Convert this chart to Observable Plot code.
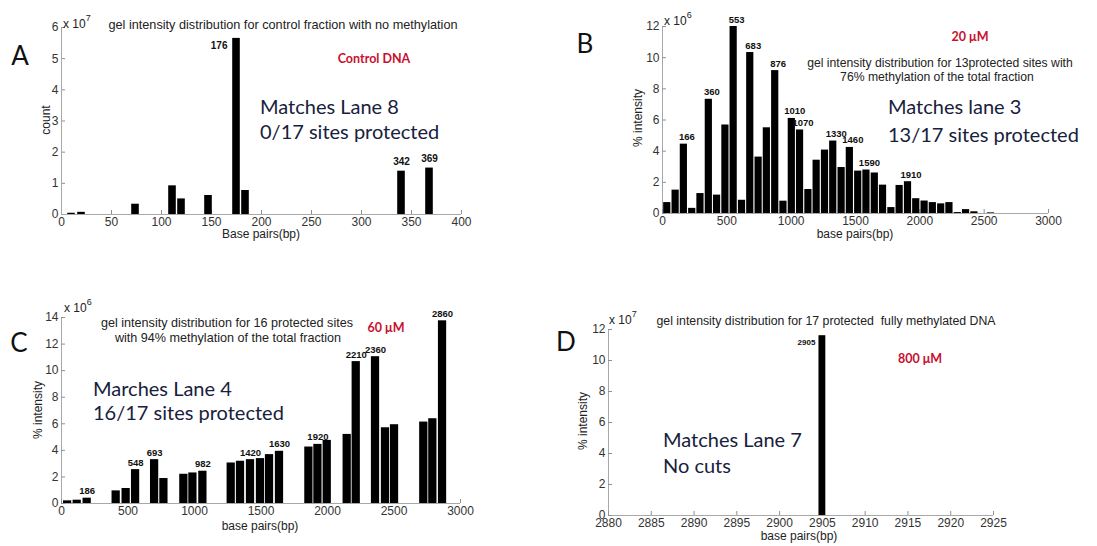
<!DOCTYPE html>
<html><head><meta charset="utf-8">
<script src="https://cdn.jsdelivr.net/npm/d3@7"></script>
<script src="https://cdn.jsdelivr.net/npm/@observablehq/plot@0.6"></script>
<style>
body{margin:0;background:#fff}
#root{position:relative;width:1097px;height:546px;overflow:hidden;background:#fff;font-family:"Liberation Sans",Arial,sans-serif}
.t{position:absolute;white-space:pre;line-height:1}
</style></head><body><div id="root"></div>
<script>
// ---------- Panel A: control fraction ----------
const aX = [10, 20, 74, 111, 120, 147, 175, 184, 340, 368];
const aV = [0.04, 0.07, 0.33, 0.92, 0.5, 0.61, 5.65, 0.77, 1.39, 1.49];
const aLabels = ["176", "342", "369"];
const aLabelIdx = [6, 8, 9];
const aXTicks = [0, 50, 100, 150, 200, 250, 300, 350, 400];
const aYTicks = [0, 1, 2, 3, 4, 5, 6];

// ---------- Panel B: 20 µM ----------
const bX = [37, 102, 166, 231, 295, 360, 424, 489, 553, 618, 682, 747, 811, 876, 940, 1005, 1069, 1134, 1198, 1263,
            1327, 1392, 1456, 1521, 1585, 1650, 1714, 1779, 1843, 1908, 1972, 2037, 2101, 2166, 2230, 2295, 2359, 2424, 2553];
const bV = [0.7, 1.5, 4.45, 0.33, 1.28, 7.33, 1.18, 5.68, 12.0, 0.85, 10.33, 3.62, 5.5, 9.17, 0.79, 6.1, 5.36, 1.54, 3.42, 4.07,
            4.65, 2.95, 4.24, 2.72, 2.79, 2.6, 1.82, 0.38, 1.8, 2.04, 0.95, 0.8, 0.7, 0.62, 0.7, 0.06, 0.25, 0.11, 0.04];
const bLabels = ["166", "360", "553", "683", "876", "1010", "1070", "1330", "1460", "1590", "1910"];
const bLabelIdx = [2, 5, 8, 10, 13, 15, 16, 20, 22, 24, 29];
const bXTicks = [0, 500, 1000, 1500, 2000, 2500, 3000];
const bYTicks = [0, 2, 4, 6, 8, 10, 12];

// ---------- Panel C: 60 µM ----------
const cX = [46, 118, 193, 411, 486, 557, 700, 770, 920, 988, 1063, 1276, 1346, 1421, 1496, 1564, 1639,
            1860, 1928, 1998, 2148, 2216, 2361, 2436, 2504, 2724, 2792, 2865];
const cV = [0.2, 0.25, 0.4, 0.95, 1.13, 2.55, 3.3, 1.88, 2.2, 2.3, 2.43, 3.05, 3.18, 3.3, 3.38, 3.68, 3.93,
            4.25, 4.45, 4.75, 5.2, 10.68, 11.05, 5.7, 5.93, 6.13, 6.38, 13.75];
const cLabels = ["186", "548", "693", "982", "1420", "1630", "1920", "2210", "2360", "2860"];
const cLabelIdx = [2, 5, 6, 10, 13, 16, 18, 21, 22, 27];
const cXTicks = [0, 500, 1000, 1500, 2000, 2500, 3000];
const cYTicks = [0, 2, 4, 6, 8, 10, 12, 14];

// ---------- Panel D: 800 µM ----------
const dX = [2905];
const dV = [11.6];
const dLabels = ["2905"];
const dLabelIdx = [0];
const dXTicks = [2880, 2885, 2890, 2895, 2900, 2905, 2910, 2915, 2920, 2925];
const dYTicks = [0, 2, 4, 6, 8, 10, 12];

const root = document.getElementById("root");
const AX_FONT = '"Liberation Sans", Arial, Helvetica, sans-serif';
const NOTE_FONT = 'Lato, "Open Sans", sans-serif';

function put(html, x, y, css, anchor = "middle", rot = 0) {
  const d = document.createElement("div");
  d.className = "t";
  d.innerHTML = html;
  d.style.cssText += css;
  d.style.left = x + "px";
  d.style.top = y + "px";
  const tx = anchor === "start" ? "0" : anchor === "end" ? "-100%" : "-50%";
  d.style.transform = `translate(${tx},-50%)` + (rot ? ` rotate(${rot}deg)` : "");
  root.appendChild(d);
}

function panel(cfg) {
  const {left, top, w, h, fx0, fx1, fyTop, fyBot, xDomain, yDomain, xTicks, yTicks, xs, vs, hw,
         labels, labelIdx, labelOpts} = cfg;
  const bars = xs.map((x, i) => ({x, v: vs[i]}));
  const lab = labels.map((t, i) => ({t, x: xs[labelIdx[i]], v: vs[labelIdx[i]]}));
  const frameW = fx1 - fx0, frameH = fyBot - fyTop;
  const svg = Plot.plot({
    width: w, height: h,
    marginLeft: fx0 - left, marginRight: left + w - fx1,
    marginTop: fyTop - top, marginBottom: top + h - fyBot,
    style: {background: "transparent", color: "#333", fontSize: "12px", fontFamily: AX_FONT, overflow: "visible"},
    x: {domain: xDomain, ticks: xTicks, tickSize: 0, tickPadding: 3, label: null, tickFormat: d => String(d)},
    y: {domain: yDomain, ticks: yTicks, tickSize: 0, tickPadding: 3, label: null, tickFormat: d => String(d)},
    marks: [
      Plot.ruleY([yDomain[0]], {stroke: "#a8a8a8"}),
      Plot.ruleX([xDomain[0]], {stroke: "#a8a8a8"}),
      Plot.tickX(xTicks, {x: d => d, insetTop: frameH - 4, stroke: "#909090"}),
      Plot.tickY(yTicks, {y: d => d, insetRight: frameW - 4, stroke: "#909090"}),
      Plot.rect(bars, {x1: d => d.x - hw, x2: d => d.x + hw, y1: 0, y2: "v", fill: "#000"}),
      Plot.text(lab, {x: "x", y: "v", text: "t", fill: "#111", fontWeight: "bold", ...labelOpts})
    ]
  });
  svg.style.position = "absolute";
  svg.style.left = left + "px";
  svg.style.top = top + "px";
  root.appendChild(svg);
}

// Panel A
panel({left: 0, top: 0, w: 490, h: 245, fx0: 61, fx1: 461, fyTop: 27, fyBot: 214,
  xDomain: [0, 400], yDomain: [0, 6], xTicks: aXTicks, yTicks: aYTicks, xs: aX, vs: aV, hw: 3.8,
  labels: aLabels.slice(1), labelIdx: aLabelIdx.slice(1), labelOpts: {dy: -9, fontSize: 10}});
// the "176" label sits to the left of its bar
panel({left: 0, top: 0, w: 490, h: 245, fx0: 61, fx1: 461, fyTop: 27, fyBot: 214,
  xDomain: [0, 400], yDomain: [0, 6], xTicks: [], yTicks: [], xs: [aX[aLabelIdx[0]]], vs: [aV[aLabelIdx[0]]], hw: 0,
  labels: [aLabels[0]], labelIdx: [0], labelOpts: {dy: 7, dx: -9, textAnchor: "end", fontSize: 10}});

// Panel B
panel({left: 560, top: 0, w: 537, h: 245, fx0: 662, fx1: 1048, fyTop: 26, fyBot: 213,
  xDomain: [0, 3000], yDomain: [0, 12], xTicks: bXTicks, yTicks: bYTicks, xs: bX, vs: bV, hw: 28,
  labels: bLabels, labelIdx: bLabelIdx, labelOpts: {dy: -7, dx: 3, fontSize: 9.5}});

// Panel C
panel({left: 0, top: 280, w: 490, h: 266, fx0: 61, fx1: 460, fyTop: 317, fyBot: 503,
  xDomain: [0, 3000], yDomain: [0, 14], xTicks: cXTicks, yTicks: cYTicks, xs: cX, vs: cV, hw: 31,
  labels: cLabels, labelIdx: cLabelIdx, labelOpts: {dy: -7, fontSize: 9.5}});

// Panel D
panel({left: 560, top: 280, w: 537, h: 266, fx0: 608, fx1: 993, fyTop: 329, fyBot: 515,
  xDomain: [2880, 2925], yDomain: [0, 12], xTicks: dXTicks, yTicks: dYTicks, xs: dX, vs: dV, hw: 0.4,
  labels: dLabels, labelIdx: dLabelIdx, labelOpts: {dy: 7, dx: -7, textAnchor: "end", fontSize: 8}});

// ---------- Text overlays ----------
const AXT = `font-family:${AX_FONT};color:#222;`;
const NOTE = `font-family:${NOTE_FONT};color:#17213c;font-size:20px;`;
const RED = `font-family:${NOTE_FONT};color:#c8102e;font-weight:bold;font-size:12.5px;`;
const LET = `font-family:${NOTE_FONT};color:#111;font-size:26px;`;
const sup = s => `x 10<span style="font-size:9px;position:relative;top:-7px">${s}</span>`;

// A
put("A", 20, 55, LET);
put(sup("7"), 63, 24, AXT + "font-size:12px;", "start");
put("gel intensity distribution for control fraction with no methylation", 283, 25, AXT + "font-size:12.7px;");
put("Control DNA", 374, 59, RED);
put("Matches Lane 8", 260, 106, NOTE, "start");
put("0/17 sites protected", 260, 131, NOTE, "start");
put("count", 46, 120, AXT + "font-size:12px;", "middle", -90);
put("Base pairs(bp)", 261, 234, AXT + "font-size:12px;");

// B
put("B", 585, 43, LET);
put(sup("6"), 664, 21, AXT + "font-size:12px;", "start");
put("20 μM", 970, 37, RED);
put("gel intensity distribution for 13protected sites with", 940, 63, AXT + "font-size:12.2px;");
put("76% methylation of the total fraction", 937, 77, AXT + "font-size:12.2px;");
put("Matches lane 3", 888, 106, NOTE, "start");
put("13/17 sites protected", 888, 134, NOTE, "start");
put("% intensity", 638, 118, AXT + "font-size:12px;", "middle", -90);
put("base pairs(bp)", 855, 234, AXT + "font-size:12px;");

// C
put("C", 19, 342, LET);
put(sup("6"), 64, 308, AXT + "font-size:12px;", "start");
put("gel intensity distribution for 16 protected sites", 227, 323, AXT + "font-size:12.6px;");
put("with 94% methylation of the total fraction", 228, 338, AXT + "font-size:12.6px;");
put("60 μM", 386, 328, RED);
put("Marches Lane 4", 93, 388, NOTE, "start");
put("16/17 sites protected", 93, 412, NOTE, "start");
put("% intensity", 38, 410, AXT + "font-size:12px;", "middle", -90);
put("base pairs(bp)", 260, 526, AXT + "font-size:12px;");

// D
put("D", 566, 341, LET);
put(sup("7"), 609, 320, AXT + "font-size:12px;", "start");
put("gel intensity distribution for 17 protected  fully methylated DNA", 826, 321, AXT + "font-size:12.3px;");
put("800 μM", 920, 359, RED);
put("Matches Lane 7", 663, 439, NOTE, "start");
put("No cuts", 663, 465, NOTE, "start");
put("% intensity", 583, 421, AXT + "font-size:12px;", "middle", -90);
put("base pairs(bp)", 799, 536, AXT + "font-size:12px;");
</script></body></html>
